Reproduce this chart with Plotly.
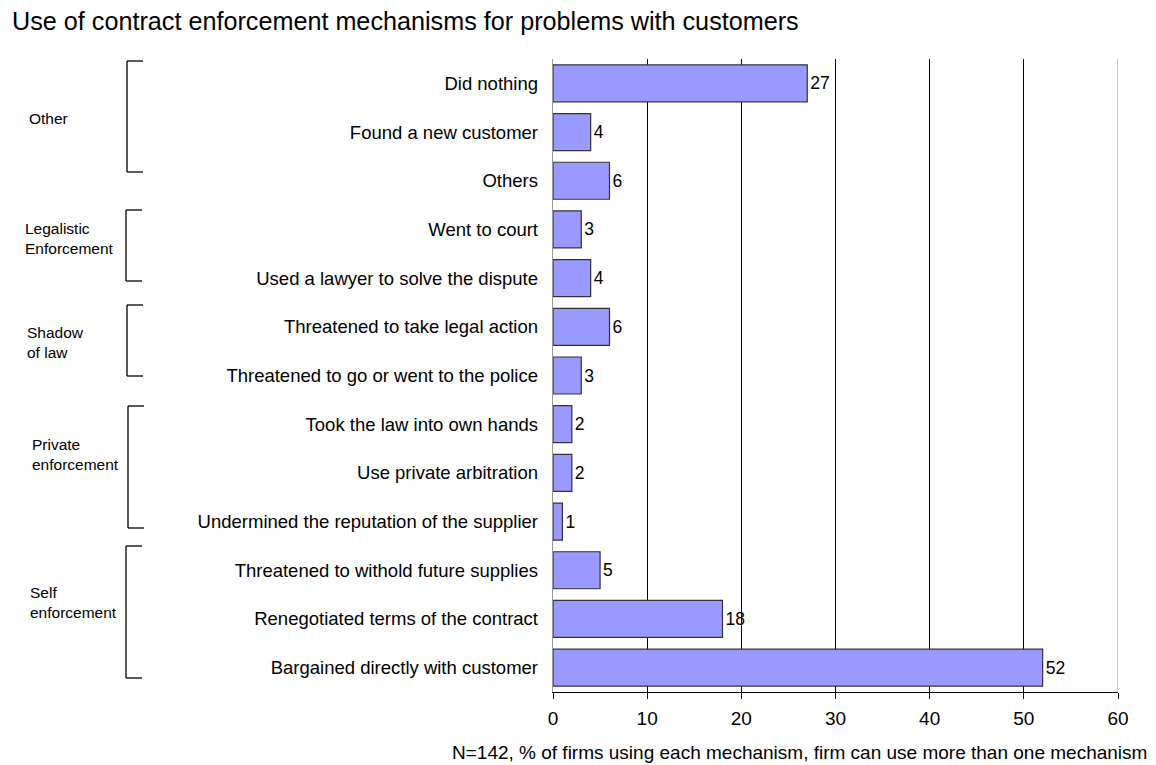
import plotly.graph_objects as go

categories = [
    "Did nothing",
    "Found a new customer",
    "Others",
    "Went to court",
    "Used a lawyer to solve the dispute",
    "Threatened to take legal action",
    "Threatened to go or went to the police",
    "Took the law into own hands",
    "Use private arbitration",
    "Undermined the reputation of the supplier",
    "Threatened to withold future supplies",
    "Renegotiated terms of the contract",
    "Bargained directly with customer",
]
values = [27, 4, 6, 3, 4, 6, 3, 2, 2, 1, 5, 18, 52]

groups = ["Other", "Legalistic<br>Enforcement", "Shadow<br>of law", "Private<br>enforcement", "Self<br>enforcement"]
x_ticks = [0, 10, 20, 30, 40, 50, 60]

# page body has an 8px margin; figure sized to fill the rest of the window
OFF = 8
W, H = 1156 - OFF, 765 - OFF
ML, MR, MT, MB = 553 - OFF, 38, 59 - OFF, 73
PW = W - ML - MR
PH = H - MT - MB

def px(x):
    return (x - OFF - ML) / PW

def py(y):
    return (H - MB - (y - OFF)) / PH

SANS = "Liberation Sans, Arial, sans-serif"

fig = go.Figure()
fig.add_trace(go.Bar(
    y=categories, x=values, orientation="h",
    marker=dict(color="#9999FF", line=dict(color="#333333", width=1.2)),
    text=[str(v) for v in values], textposition="outside",
    textfont=dict(family=SANS, size=17.5, color="#000000"),
    cliponaxis=False,
))

shapes = []
brackets = [(127, 61, 172), (126, 210, 281), (127, 305, 376), (128, 406, 528), (126, 546, 678)]
label_pos = [(27, 118), (23, 238), (25, 342), (30, 454), (28, 602)]
for (bx, t, b) in brackets:
    for seg in [(bx, t, bx + 16, t), (bx, t, bx, b), (bx, b, bx + 16, b)]:
        shapes.append(dict(type="line", xref="paper", yref="paper",
                           x0=px(seg[0]), y0=py(seg[1]), x1=px(seg[2]), y1=py(seg[3]),
                           line=dict(color="#000000", width=1.3)))
shapes.append(dict(type="line", xref="x", yref="paper", x0=60, x1=60, y0=0, y1=1,
                   line=dict(color="#999999", width=1), layer="above"))

annotations = []
for g, (lx, ly) in zip(groups, label_pos):
    annotations.append(dict(text=g, xref="paper", yref="paper", x=px(lx), y=py(ly),
                            xanchor="left", yanchor="middle", align="left", showarrow=False,
                            font=dict(family=SANS, size=15.5, color="#000000")))
annotations.append(dict(text="Use of contract enforcement mechanisms for problems with customers",
                        xref="paper", yref="paper", x=px(10), y=py(21), xanchor="left", yanchor="middle",
                        showarrow=False, font=dict(family=SANS, size=25.2, color="#000000")))
annotations.append(dict(text="N=142, % of firms using each mechanism, firm can use more than one mechanism",
                        xref="paper", yref="paper", x=px(1149), y=py(752), xanchor="right", yanchor="middle",
                        showarrow=False, font=dict(family=SANS, size=19, color="#000000")))

fig.update_layout(
    width=W, height=H,
    margin=dict(l=ML, r=MR, t=MT, b=MB),
    paper_bgcolor="white", plot_bgcolor="white",
    showlegend=False, bargap=0.24,
    shapes=shapes, annotations=annotations,
    xaxis=dict(range=[0, 60], tickvals=x_ticks, showgrid=True, gridcolor="#000000", gridwidth=1,
               showline=True, linecolor="#000000", linewidth=1.3, ticks="outside", ticklen=6,
               tickcolor="#000000", zeroline=False, ticklabelstandoff=3,
               tickfont=dict(family=SANS, size=19, color="#000000")),
    yaxis=dict(autorange="reversed", showline=True, linecolor="#999999", linewidth=1,
               ticks="", ticklen=0, showgrid=False, zeroline=False,
               tickfont=dict(family=SANS, size=18.5, color="#000000"), ticksuffix="  "),
)

fig.write_html("out.html")
